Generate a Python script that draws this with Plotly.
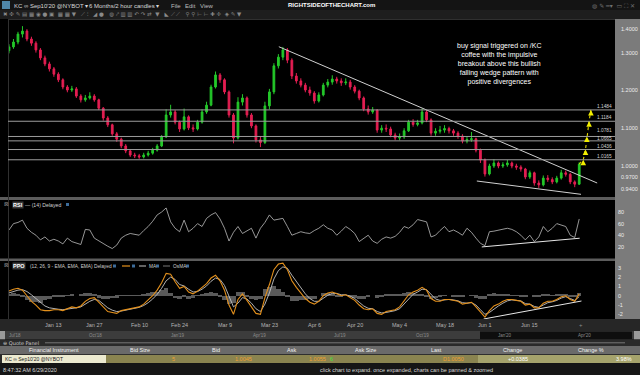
import numpy as np
import plotly.graph_objects as go

W, H = 640, 375

# ---------------- data ----------------
first_open = 1.305
closes = [1.315,1.328,1.349,1.357,1.336,1.325,1.307,1.286,1.270,1.257,
          1.243,1.228,1.209,1.201,1.204,1.185,1.175,1.180,1.185,1.175,
          1.153,1.127,1.109,1.085,1.071,1.053,1.040,1.029,1.027,1.024,
          1.029,1.034,1.042,1.053,1.077,1.135,1.143,1.116,1.098,1.130,
          1.101,1.098,1.116,1.143,1.161,1.209,1.241,1.228,1.196,1.135,
          1.074,1.169,1.180,1.135,1.106,1.069,1.062,1.159,1.196,1.265,
          1.288,1.307,1.280,1.238,1.225,1.214,1.201,1.193,1.172,1.188,
          1.214,1.222,1.230,1.225,1.220,1.222,1.209,1.198,1.180,1.151,
          1.143,1.148,1.095,1.100,1.098,1.082,1.074,1.077,1.093,1.116,
          1.110,1.114,1.143,1.122,1.087,1.092,1.095,1.099,1.093,1.087,
          1.079,1.066,1.070,1.072,1.042,1.016,0.979,1.000,1.008,1.000,
          1.003,1.008,1.000,0.997,0.992,0.971,0.982,0.955,0.950,0.968,
          0.964,0.958,0.968,0.982,0.978,0.958,0.952,1.005]
highs = [1.322,1.336,1.355,1.370,1.362,1.342,1.330,1.312,1.292,1.276,
         1.262,1.248,1.232,1.214,1.212,1.209,1.190,1.188,1.195,1.190,
         1.178,1.156,1.132,1.112,1.090,1.075,1.058,1.045,1.035,1.032,
         1.035,1.040,1.048,1.058,1.082,1.150,1.162,1.148,1.120,1.152,
         1.134,1.110,1.122,1.150,1.170,1.215,1.250,1.246,1.232,1.200,
         1.140,1.182,1.190,1.184,1.140,1.110,1.078,1.170,1.204,1.272,
         1.296,1.315,1.312,1.285,1.246,1.232,1.220,1.210,1.198,1.195,
         1.220,1.230,1.240,1.236,1.232,1.232,1.228,1.214,1.202,1.184,
         1.160,1.156,1.150,1.108,1.110,1.104,1.088,1.086,1.100,1.122,
         1.124,1.122,1.152,1.148,1.126,1.100,1.106,1.108,1.104,1.098,
         1.092,1.084,1.078,1.090,1.075,1.046,1.020,1.006,1.018,1.012,
         1.010,1.016,1.012,1.006,1.002,0.995,0.988,0.985,0.962,0.975,
         0.976,0.970,0.974,0.990,0.988,0.982,0.962,1.010]
lows = [1.298,1.310,1.322,1.340,1.330,1.318,1.300,1.280,1.264,1.250,
        1.236,1.222,1.203,1.195,1.196,1.180,1.168,1.170,1.176,1.170,
        1.148,1.120,1.103,1.080,1.064,1.047,1.034,1.024,1.021,1.019,
        1.020,1.025,1.030,1.038,1.050,1.074,1.128,1.110,1.090,1.094,
        1.095,1.090,1.094,1.112,1.138,1.158,1.205,1.220,1.190,1.128,
        1.060,1.070,1.160,1.128,1.100,1.062,1.050,1.058,1.150,1.190,
        1.258,1.280,1.272,1.230,1.218,1.208,1.195,1.186,1.165,1.168,
        1.184,1.208,1.215,1.218,1.212,1.214,1.202,1.192,1.174,1.145,
        1.136,1.138,1.088,1.088,1.090,1.076,1.068,1.068,1.072,1.090,
        1.104,1.105,1.110,1.116,1.080,1.080,1.086,1.088,1.086,1.080,
        1.072,1.060,1.060,1.064,1.036,1.008,0.972,0.975,0.995,0.994,
        0.995,0.998,0.994,0.990,0.985,0.965,0.966,0.948,0.942,0.946,
        0.958,0.952,0.954,0.964,0.972,0.952,0.944,0.950]

rsi = [49,60,62,66,52,45,40,32,37,30,
       33,30,25,35,29,27,24,50,49,35,
       30,26,21,17,23,35,40,43,41,40,
       48,55,64,75,80,87,63,52,46,66,
       46,52,60,55,69,75,79,68,52,30,
       45,55,43,48,52,35,52,62,75,66,
       68,69,55,40,43,46,44,43,48,52,
       58,52,49,40,47,55,50,43,29,35,
       40,30,26,33,37,35,38,45,55,52,
       58,67,65,63,37,40,48,55,46,49,
       45,40,52,45,35,26,22,46,47,49,
       50,52,50,46,40,32,40,29,37,55,
       46,52,60,57,55,40,36,68]

ppo = [0.5,0.7,0.8,0.6,0.0,-0.6,-1.0,-1.5,-1.6,-1.6,
       -1.5,-1.5,-1.6,-1.4,-1.2,-1.3,-1.1,-0.6,-0.3,-0.2,
       -0.7,-1.3,-1.7,-1.8,-1.9,-1.6,-1.5,-1.4,-1.3,-1.2,
       -0.9,-0.5,0.0,0.6,1.4,2.4,2.3,1.5,0.8,1.0,
       0.4,0.2,0.5,0.9,1.3,1.9,2.2,1.6,0.6,-1.0,
       -2.0,-0.4,0.2,-0.5,-1.2,-1.9,-2.0,-0.2,1.2,2.8,
       3.4,3.5,2.8,1.6,0.9,0.3,-0.3,-0.7,-0.9,-0.6,
       0.0,0.3,0.4,0.2,0.0,0.1,-0.2,-0.5,-1.0,-1.4,
       -1.5,-1.4,-1.9,-2.0,-1.7,-1.6,-1.5,-1.2,-0.6,0.1,
       0.4,0.6,0.9,0.6,-0.3,-0.6,-0.6,-0.4,-0.4,-0.5,
       -0.6,-0.9,-0.8,-0.7,-1.2,-1.8,-2.3,-1.6,-1.1,-0.9,
       -0.6,-0.4,-0.4,-0.5,-0.6,-1.0,-0.9,-1.3,-1.3,-0.8,
       -0.6,-0.6,-0.4,-0.1,0.0,-0.4,-0.6,0.2]
ppo_ma = [0.3,0.45,0.6,0.65,0.45,0.1,-0.3,-0.7,-1.1,-1.3,
          -1.4,-1.45,-1.5,-1.45,-1.35,-1.3,-1.2,-0.9,-0.6,-0.4,
          -0.5,-0.9,-1.3,-1.55,-1.7,-1.65,-1.55,-1.45,-1.35,-1.25,
          -1.05,-0.75,-0.35,0.15,0.8,1.6,2.0,1.75,1.2,1.05,
          0.7,0.4,0.45,0.7,1.05,1.55,1.9,1.75,1.1,-0.1,
          -1.2,-0.8,-0.2,-0.35,-0.8,-1.4,-1.7,-0.9,0.3,1.8,
          2.7,3.1,2.95,2.2,1.5,0.8,0.2,-0.3,-0.6,-0.6,
          -0.3,0.05,0.25,0.25,0.1,0.1,-0.05,-0.3,-0.7,-1.1,
          -1.35,-1.4,-1.7,-1.85,-1.8,-1.7,-1.6,-1.4,-0.9,-0.3,
          0.15,0.4,0.7,0.65,0.1,-0.35,-0.5,-0.45,-0.4,-0.45,
          -0.55,-0.75,-0.8,-0.75,-1.0,-1.5,-2.0,-1.8,-1.4,-1.1,
          -0.8,-0.55,-0.45,-0.48,-0.55,-0.85,-0.9,-1.15,-1.25,-1.0,
          -0.75,-0.65,-0.5,-0.25,-0.1,-0.3,-0.5,-0.1]

levels = [1.1484, 1.1184, 1.0781, 1.0665, 1.0436, 1.0165]
level_label_shift = [0, 0, 2, -1.5, 0, 0]
arrow_targets = [1.0165, 1.0436, 1.0781, 1.1184, 1.1484]
arrow_bars = [127.9, 128.4, 128.7, 129.2, 129.6]

price_ticks = [0.94, 0.97, 1.0, 1.1, 1.2, 1.3]
rsi_ticks = [20, 40, 60, 80]
ppo_ticks = [-2, -1, 0, 1, 2, 3]

wedge_top_x, wedge_top_y = [60.1, 131.0], [1.3156, 0.955]
wedge_bot_x, wedge_bot_y = [104.2, 127.4], [0.9603, 0.9251]
rsi_line_x, rsi_line_y = [105.3, 127.1], [19.8, 34.8]
ppo_line_x, ppo_line_y = [105.7, 127.5], [-2.5, -0.57]

start_day = "2019-12-27"
holidays = ["2020-01-01", "2020-01-20", "2020-02-17", "2020-04-10", "2020-05-25"]
tick_dates = ["2020-01-13", "2020-01-27", "2020-02-10", "2020-02-24", "2020-03-09", "2020-03-23",
              "2020-04-06", "2020-04-20", "2020-05-04", "2020-05-18", "2020-06-01", "2020-06-15"]
tick_labels = ["Jan 13", "Jan 27", "Feb 10", "Feb 24", "Mar 9", "Mar 23",
               "Apr 6", "Apr 20", "May 4", "May 18", "Jun 1", "Jun 15"]

note = ("buy signal triggered on /KC<br>coffee with the impulsive<br>breakout above this bullish"
        "<br>falling wedge pattern with<br>positive divergences")

# ---------------- derived ----------------
bars = np.arange(len(closes))
opens = [first_open] + closes[:-1]
osma = [a - b for a, b in zip(ppo, ppo_ma)]
tickvals = np.busday_count(start_day, tick_dates, holidays=holidays).tolist()

FONT = "Liberation Sans"
def PX(x): return x / W
def PY(y): return 1 - y / H

fig = go.Figure()

fig.add_trace(go.Candlestick(
    x=bars, open=opens, high=highs, low=lows, close=closes,
    increasing=dict(line=dict(color="#24c82a", width=1), fillcolor="#24c82a"),
    decreasing=dict(line=dict(color="#e41e52", width=1), fillcolor="#e41e52"),
    whiskerwidth=0, xaxis="x", yaxis="y", showlegend=False, hoverinfo="skip"))

fig.add_trace(go.Scatter(x=wedge_top_x, y=wedge_top_y, mode="lines",
                         line=dict(color="#d0d0d0", width=1), xaxis="x", yaxis="y", showlegend=False))
fig.add_trace(go.Scatter(x=wedge_bot_x, y=wedge_bot_y, mode="lines",
                         line=dict(color="#d0d0d0", width=1), xaxis="x", yaxis="y", showlegend=False))

# yellow dotted target path
fig.add_trace(go.Scatter(x=[bars[-1]] + arrow_bars, y=[closes[-1]] + arrow_targets, mode="lines",
                         line=dict(color="#e0d800", width=1.1, dash="dot"),
                         xaxis="x", yaxis="y", showlegend=False))

# RSI
fig.add_trace(go.Scatter(x=bars, y=rsi, mode="lines", line=dict(color="#bdbdbd", width=0.8),
                         xaxis="x2", yaxis="y2", showlegend=False))
fig.add_trace(go.Scatter(x=rsi_line_x, y=rsi_line_y, mode="lines", line=dict(color="#e6e6e6", width=1),
                         xaxis="x2", yaxis="y2", showlegend=False))

# PPO
fig.add_trace(go.Bar(x=bars, y=osma, width=1.0, marker=dict(color="#5a5a5a", line=dict(width=0)),
                     xaxis="x3", yaxis="y3", showlegend=False))
fig.add_trace(go.Scatter(x=bars, y=ppo_ma, mode="lines", line=dict(color="#c4c4c4", width=0.9),
                         xaxis="x3", yaxis="y3", showlegend=False))
fig.add_trace(go.Scatter(x=bars, y=ppo, mode="lines", line=dict(color="#e3901c", width=1.1),
                         xaxis="x3", yaxis="y3", showlegend=False))
fig.add_trace(go.Scatter(x=ppo_line_x, y=ppo_line_y, mode="lines", line=dict(color="#e6e6e6", width=1),
                         xaxis="x3", yaxis="y3", showlegend=False))

xdom = [PX(8), PX(615)]
xr = [-0.22, 134.97]
common_x = dict(domain=xdom, range=xr, showgrid=False, zeroline=False, showline=False,
                ticks="", fixedrange=True, showticklabels=False)
common_y = dict(showgrid=False, zeroline=False, showline=False, ticks="", side="right",
                showticklabels=False, fixedrange=True)

fig.update_layout(
    width=W, height=H, margin=dict(l=0, r=0, t=0, b=0),
    paper_bgcolor="#000000", plot_bgcolor="#000000", bargap=0, boxgap=0.45,
    xaxis=dict(**common_x, anchor="y", rangeslider=dict(visible=False)),
    xaxis2=dict(**common_x, anchor="y2", matches="x"),
    xaxis3=dict(**common_x, anchor="y3", matches="x"),
    yaxis=dict(**common_y, domain=[PY(197), PY(19)], range=[0.918, 1.3889], anchor="x"),
    yaxis2=dict(**common_y, domain=[PY(259), PY(200)], range=[-1, 100.7], anchor="x2"),
    yaxis3=dict(**common_y, domain=[PY(319), PY(261)], range=[-2.5, 3.73], anchor="x3"),
    showlegend=False,
)

def rect(x0, y0, x1, y1, fill, layer="below"):
    fig.add_shape(type="rect", xref="paper", yref="paper", x0=PX(x0), x1=PX(x1),
                  y0=PY(y1), y1=PY(y0), fillcolor=fill, line=dict(width=0), layer=layer)

def hline(x0, x1, y, color, width=1):
    fig.add_shape(type="line", xref="paper", yref="paper", x0=PX(x0), x1=PX(x1),
                  y0=PY(y), y1=PY(y), line=dict(color=color, width=width))

def txt(x, y, s, size=6, color="#dddddd", anchor="left", bold=False, bg=None, family=FONT):
    if bold:
        s = "<b>" + s + "</b>"
    fig.add_annotation(x=PX(x), y=PY(y), xref="paper", yref="paper", text=s, showarrow=False,
                       xanchor=anchor, yanchor="middle", font=dict(size=size, color=color, family=family),
                       bgcolor=bg, borderpad=0)

# window chrome
rect(0, 0, 640, 10, "#141414")
rect(0, 10, 640, 19, "#1e1e1e")
rect(2, 1, 10, 9, "#4f86a8")
txt(13, 5.5, "KC ∞ Sep10'20 @NYBOT ▾", 6, "#d8d8d8")
txt(88, 5.5, "6 Months/2 hour candles ▾", 6, "#d8d8d8")
txt(170, 5.5, "File", 6, "#bdbdbd")
txt(184, 5.5, "Edit", 6, "#bdbdbd")
txt(199, 5.5, "View", 6, "#bdbdbd")
txt(331, 4.5, "RIGHTSIDEOFTHECHART.com", 6, "#ffffff", anchor="center", bold=True)
txt(636, 5.5, "◍ ✎ ━▾  ▭ ⛶ ✕", 6, "#6f6f6f", anchor="right", family="DejaVu Sans")
txt(2, 14.5, "✖ ✣ ✎ ▤ ▦ ◉ ● ▣  ▦ ▦ ▼   ⟋ ⫶   ◢ ●   ◍ ⤤ ▥ ▥ ↶ ↷ ⇄  ▼   ◣ ⟋ ⟋   ⚲ ⚲ ⊢ ⊢ ✚ ✢  ◈ ✎ ▼",
    5.5, "#8a8a8a", family="DejaVu Sans")

# right axis panel and panel separators
rect(615, 19, 640, 319, "#7b7b7b")
rect(0, 197, 615, 200, "#5c5c5c")
rect(0, 258.5, 615, 261, "#5c5c5c")
hline(8, 615, 19.5, "#303030")
fig.add_shape(type="line", xref="paper", yref="paper", x0=PX(8.5), x1=PX(8.5), y0=PY(319), y1=PY(19),
              line=dict(color="#303030", width=1))

# axis labels inside the grey panel, positioned through each axis' scale
lab_font = dict(size=5.5, color="#ececec", family=FONT)
for v in price_ticks:
    fig.add_annotation(x=PX(620), y=v, xref="paper", yref="y", text=f"{v:.4f}", showarrow=False,
                       xanchor="left", yanchor="middle", font=lab_font, borderpad=0)
txt(620, 29, "1.4000", 5.5, "#ececec")
for v in rsi_ticks:
    fig.add_annotation(x=PX(617), y=v, xref="paper", yref="y2", text=str(v), showarrow=False,
                       xanchor="left", yanchor="middle", font=lab_font, borderpad=0)
for v in ppo_ticks:
    fig.add_annotation(x=PX(617), y=v, xref="paper", yref="y3", text=str(v), showarrow=False,
                       xanchor="left", yanchor="middle", font=lab_font, borderpad=0)

# resistance levels
for lv, sh in zip(levels, level_label_shift):
    fig.add_shape(type="line", xref="x domain", yref="y", x0=0, x1=1, y0=lv, y1=lv,
                  line=dict(color="#9c9c9c", width=1))
    fig.add_annotation(x=PX(613), y=lv, xref="paper", yref="y", text=f"{lv:.4f}", showarrow=False,
                       xanchor="right", yanchor="bottom", yshift=sh,
                       font=dict(size=4.8, color="#d4d4d4", family=FONT), borderpad=0)

# yellow arrow heads at the targets
for bx, tv in zip(arrow_bars, arrow_targets):
    fig.add_annotation(x=bx, y=tv, xref="x", yref="y", text="", showarrow=True, ax=0, ay=6,
                       arrowhead=2, arrowsize=0.8, arrowwidth=1.4, arrowcolor="#f2ee00", standoff=0)

# note
fig.add_annotation(x=PX(499), y=PY(64.5), xref="paper", yref="paper", text=note, showarrow=False,
                   xanchor="center", yanchor="middle", align="center",
                   font=dict(size=7, color="#ffffff", family=FONT))

# panel labels
txt(3, 203.5, "⊠", 5.5, "#9a9a9a", family="DejaVu Sans")
txt(12, 204.5, "RSI", 5.5, "#ffffff", bold=True, bg="#3a3a3a")
txt(24, 204.5, "— (14) Delayed", 5.2, "#cfcfcf")
rect(66, 203, 69, 206, "#3d6c9a", layer="above")
txt(3, 264.5, "⊠", 5.5, "#9a9a9a", family="DejaVu Sans")
txt(12, 266, "PPO", 5.5, "#ffffff", bold=True, bg="#3a3a3a")
txt(29, 266, "(12, 26, 9 - EMA, EMA, EMA) Delayed", 4.8, "#cfcfcf")
rect(113, 264.5, 116, 267.5, "#3d6c9a", layer="above")
hline(122, 130, 266, "#e3901c", 1.2)
rect(132, 264.5, 135, 267.5, "#3d6c9a", layer="above")
hline(139, 146, 266, "#c4c4c4", 1)
txt(148, 266, "MA", 4.8, "#cfcfcf")
rect(156, 264.5, 159, 267.5, "#3d6c9a", layer="above")
hline(163, 170, 266, "#777777", 1)
txt(172, 266, "OsMA", 4.8, "#cfcfcf")
rect(186, 264.5, 189, 267.5, "#3d6c9a", layer="above")

# date row
rect(0, 319, 640, 331, "#262626")
for tv, tl in zip(tickvals, tick_labels):
    fig.add_annotation(x=tv, y=PY(325), xref="x3", yref="paper", text=tl, showarrow=False,
                       xanchor="center", yanchor="middle",
                       font=dict(size=5.5, color="#b4b4b4", family=FONT), borderpad=0)
txt(581, 325, "+", 6, "#8a8a8a", anchor="center")

# scrollbar
rect(0, 331, 640, 339.5, "#3c3c3c")
rect(480, 331.5, 632, 339, "#0e0e0e")
rect(0, 331, 5, 339.5, "#9a9a9a")
rect(634, 331, 640, 339.5, "#9a9a9a")
for lab, xx in zip(["Jul'18", "Oct'18", "Jan'19", "Apr'19", "Jul'19", "Oct'19", "Jan'20", "Apr'20"],
                   [8, 88, 170, 252, 333, 415, 497, 577]):
    txt(xx, 335, lab, 4.5, "#8c8c8c")

# quote panel
rect(0, 339.5, 640, 346, "#2a2a2a")
txt(2, 342.8, "⊖ Quote Panel", 5, "#cfcfcf", family="DejaVu Sans")
hline(45, 625, 342.8, "#8a8a8a", 0.8)
rect(0, 346, 640, 354.5, "#6a6a6a")
for lab, xx in zip(["Financial Instrument", "Bid Size", "Bid", "Ask", "Ask Size", "Last", "Change", "Change %"],
                   [54, 140, 216, 291, 365, 436, 512, 591]):
    txt(xx, 350.3, lab, 5.5, "#f0f0f0", anchor="center")
rect(0, 354.5, 640, 363.5, "#2a2a2a")
rect(2, 355, 106, 363, "#ecead0")
rect(106, 355, 478, 363, "#8a8450")
rect(478, 355, 640, 363, "#a5a36c")
txt(4, 359, "KC ∞ Sep10'20 @NYBOT", 5, "#202020")
txt(173, 359, "5", 5.5, "#f0a030", anchor="center")
txt(243, 359, "1.0045", 5.5, "#f0a030", anchor="center")
txt(317, 359, "1.0055", 5.5, "#f0a030", anchor="center")
txt(331, 359, "6", 5.5, "#40e040", anchor="center")
txt(453, 359, "D1.0050", 5.5, "#f0a030", anchor="center")
txt(518, 359, "+0.0385", 5.5, "#ffffff", anchor="center")
txt(624, 359, "3.98%", 5.5, "#ffffff", anchor="center")

# status bar
rect(0, 364, 640, 375, "#161616")
txt(2, 369.5, "8:47:32 AM 6/29/2020", 5.5, "#d8d8d8")
txt(406, 369.5, "click chart to expand. once expanded, charts can be panned &amp; zoomed", 5.5, "#d8d8d8",
    anchor="center")

fig.write_html("out.html", config={"displayModeBar": False},
               post_script="document.body.style.margin='0px';document.body.style.overflow='hidden';")
